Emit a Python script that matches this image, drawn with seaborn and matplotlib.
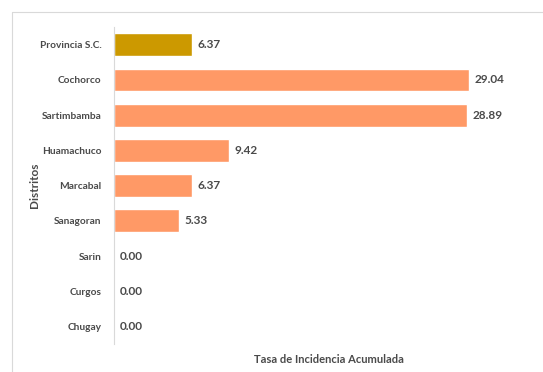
import matplotlib
matplotlib.use("Agg")
import matplotlib.pyplot as plt
import seaborn as sns
import pandas as pd
from matplotlib.lines import Line2D

distritos = ["Provincia S.C.", "Cochorco", "Sartimbamba", "Huamachuco", "Marcabal",
             "Sanagoran", "Sarin", "Curgos", "Chugay"]
tasa = [6.37, 29.04, 28.89, 9.42, 6.37, 5.33, 0.00, 0.00, 0.00]
colores = ["#CC9900"] + ["#FF9966"] * 8

df = pd.DataFrame({"Distritos": distritos, "Tasa": tasa})

sns.set_style("white")
plt.rcParams["font.family"] = ["Lato", "DejaVu Sans"]
text_color = "#4a4a4a"

fig = plt.figure(figsize=(5.43, 3.72), dpi=100)
ax = fig.add_axes([0.21, 0.075, 0.72, 0.852])

sns.barplot(data=df, x="Tasa", y="Distritos", hue="Distritos", palette=colores,
            legend=False, width=0.65, ax=ax, saturation=1)

for i, v in enumerate(tasa):
    ax.text(v + 0.45, i, f"{v:.2f}", va="center", ha="left", fontsize=8.5,
            fontweight="bold", color=text_color)

ax.set_xlim(0, 32)
ax.set_ylim(8.5, -0.5)
ax.set_xticks([])
ax.tick_params(axis="y", length=0, pad=9, labelsize=7.3, labelcolor=text_color)
for lbl in ax.get_yticklabels():
    lbl.set_fontweight("bold")
for s in ["top", "right", "bottom"]:
    ax.spines[s].set_visible(False)
ax.spines["left"].set_color("#d9d9d9")
ax.spines["left"].set_linewidth(0.8)

ax.set_ylabel("Distritos", fontsize=8.5, fontweight="bold", color=text_color)
ax.yaxis.set_label_coords(-0.19, 0.5)
ax.set_xlabel("Tasa de Incidencia Acumulada", fontsize=8, fontweight="bold",
              color=text_color)
ax.xaxis.set_label_coords(0.55, -0.03)

# chart area border (top and left visible in the crop)
fig.add_artist(Line2D([12 / 543, 12 / 543], [0, 1 - 12 / 372], transform=fig.transFigure,
                      color="#d9d9d9", lw=0.8))
fig.add_artist(Line2D([12 / 543, 1], [1 - 12 / 372, 1 - 12 / 372], transform=fig.transFigure,
                      color="#d9d9d9", lw=0.8))

fig.savefig("out.png", dpi=100, facecolor="white")
